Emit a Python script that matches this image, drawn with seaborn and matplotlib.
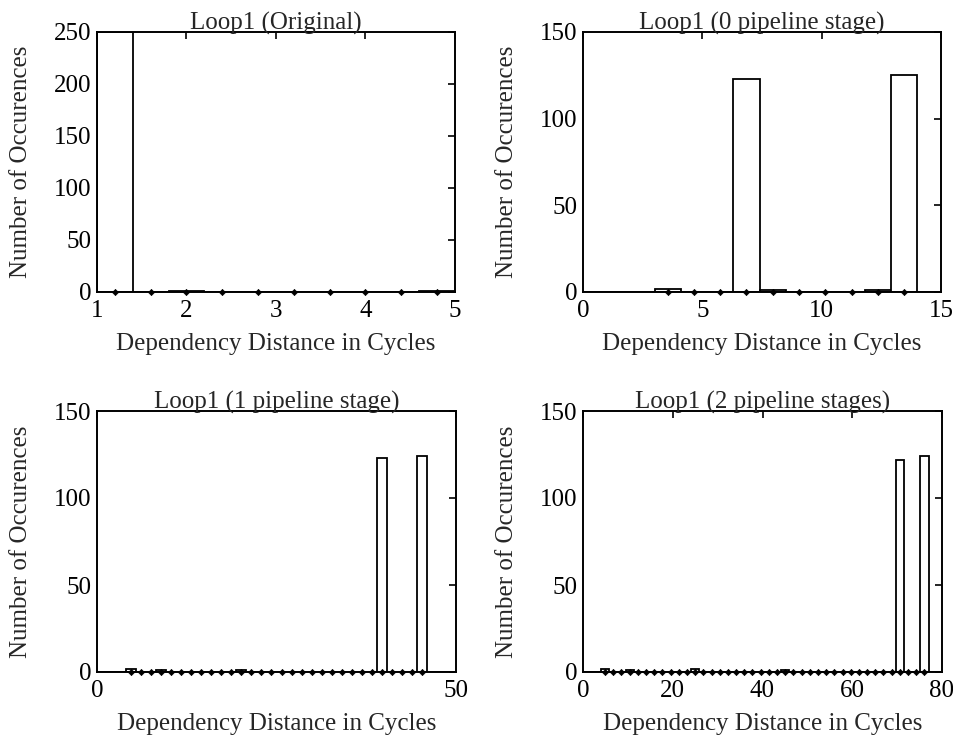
import numpy as np
import pandas as pd
import matplotlib
matplotlib.use("Agg")
import matplotlib.pyplot as plt
import seaborn as sns

# ---- data ----
titles = ["Loop1 (Original)", "Loop1 (0 pipeline stage)",
          "Loop1 (1 pipeline stage)", "Loop1 (2 pipeline stages)"]
# histogram ranges: (min, max, number of bins)
range_orig = (1, 5, 10)
range_p0 = (3, 14, 10)
range_p1 = (4, 46, 30)
range_p2 = (4, 77, 40)

counts_orig = [250, 0, 1, 0, 0, 0, 0, 0, 0, 1]
counts_p0 = [2, 0, 0, 123, 1, 0, 0, 0, 1, 125]
counts_p1 = [2, 0, 0, 1, 0, 0, 0, 0, 0, 0,
             0, 1, 0, 0, 0, 0, 0, 0, 0, 0,
             0, 0, 0, 0, 0, 123, 0, 0, 0, 124]
counts_p2 = [2, 0, 0, 1, 0, 0, 0, 0, 0, 0,
             0, 2, 0, 0, 0, 0, 0, 0, 0, 0,
             0, 0, 1, 0, 0, 0, 0, 0, 0, 0,
             0, 0, 0, 0, 0, 0, 122, 0, 0, 124]

xlims = [(1, 5), (0, 15), (0, 50), (0, 80)]
xticks = [[1, 2, 3, 4, 5], [0, 5, 10, 15], [0, 50], [0, 20, 40, 60, 80]]
ylims = [(0, 250), (0, 150), (0, 150), (0, 150)]
yticks = [[0, 50, 100, 150, 200, 250], [0, 50, 100, 150],
          [0, 50, 100, 150], [0, 50, 100, 150]]

xlabel = "Dependency Distance in Cycles"
ylabel = "Number of Occurences"

sns.set_theme(style="white")
plt.rcParams["font.family"] = ["Liberation Serif", "DejaVu Serif"]
plt.rcParams["mathtext.fontset"] = "stix"

W, H = 954, 740
fig = plt.figure(figsize=(W / 100, H / 100), dpi=100)

# axes boxes in pixels: left, top, right, bottom
boxes = [(97, 32, 455, 292), (583, 32, 941, 292),
         (97, 411, 456, 672), (583, 411, 942, 672)]

ranges = [range_orig, range_p0, range_p1, range_p2]
counts = [counts_orig, counts_p0, counts_p1, counts_p2]
FS = 18

for i in range(4):
    l, t, r, b = boxes[i]
    ax = fig.add_axes([l / W, 1 - b / H, (r - l) / W, (b - t) / H])
    lo, hi, n = ranges[i]
    edges = np.linspace(lo, hi, n + 1)
    centers = (edges[:-1] + edges[1:]) / 2
    df = pd.DataFrame({"x": centers, "w": np.asarray(counts[i], float)})
    sns.histplot(data=df, x="x", weights="w", bins=n, binrange=(lo, hi),
                 ax=ax, color="white", edgecolor="black", linewidth=1.3,
                 alpha=1.0)
    sns.scatterplot(x=centers, y=np.zeros(n), ax=ax, marker="D", s=10,
                    color="black", edgecolor="black", linewidth=0.5,
                    zorder=5, clip_on=False)
    ax.axhline(0, color="black", lw=1.3, zorder=4)
    ax.set_xlim(*xlims[i])
    ax.set_ylim(*ylims[i])
    ax.set_xticks(xticks[i])
    ax.set_yticks(yticks[i])
    ax.tick_params(direction="in", length=5, width=1.2, top=True,
                   right=True, labelsize=FS, colors="black")
    ax.tick_params(axis="y", pad=4)
    ax.tick_params(axis="x", pad=6)
    for s in ax.spines.values():
        s.set_color("black")
        s.set_linewidth(1.4)
    ax.set_title(titles[i], fontsize=FS, pad=2)
    ax.set_xlabel(xlabel, fontsize=FS, labelpad=8)
    ax.set_ylabel(ylabel, fontsize=FS, labelpad=16)
    ax.set_facecolor("white")

fig.savefig("out.png", dpi=100, facecolor="white")
